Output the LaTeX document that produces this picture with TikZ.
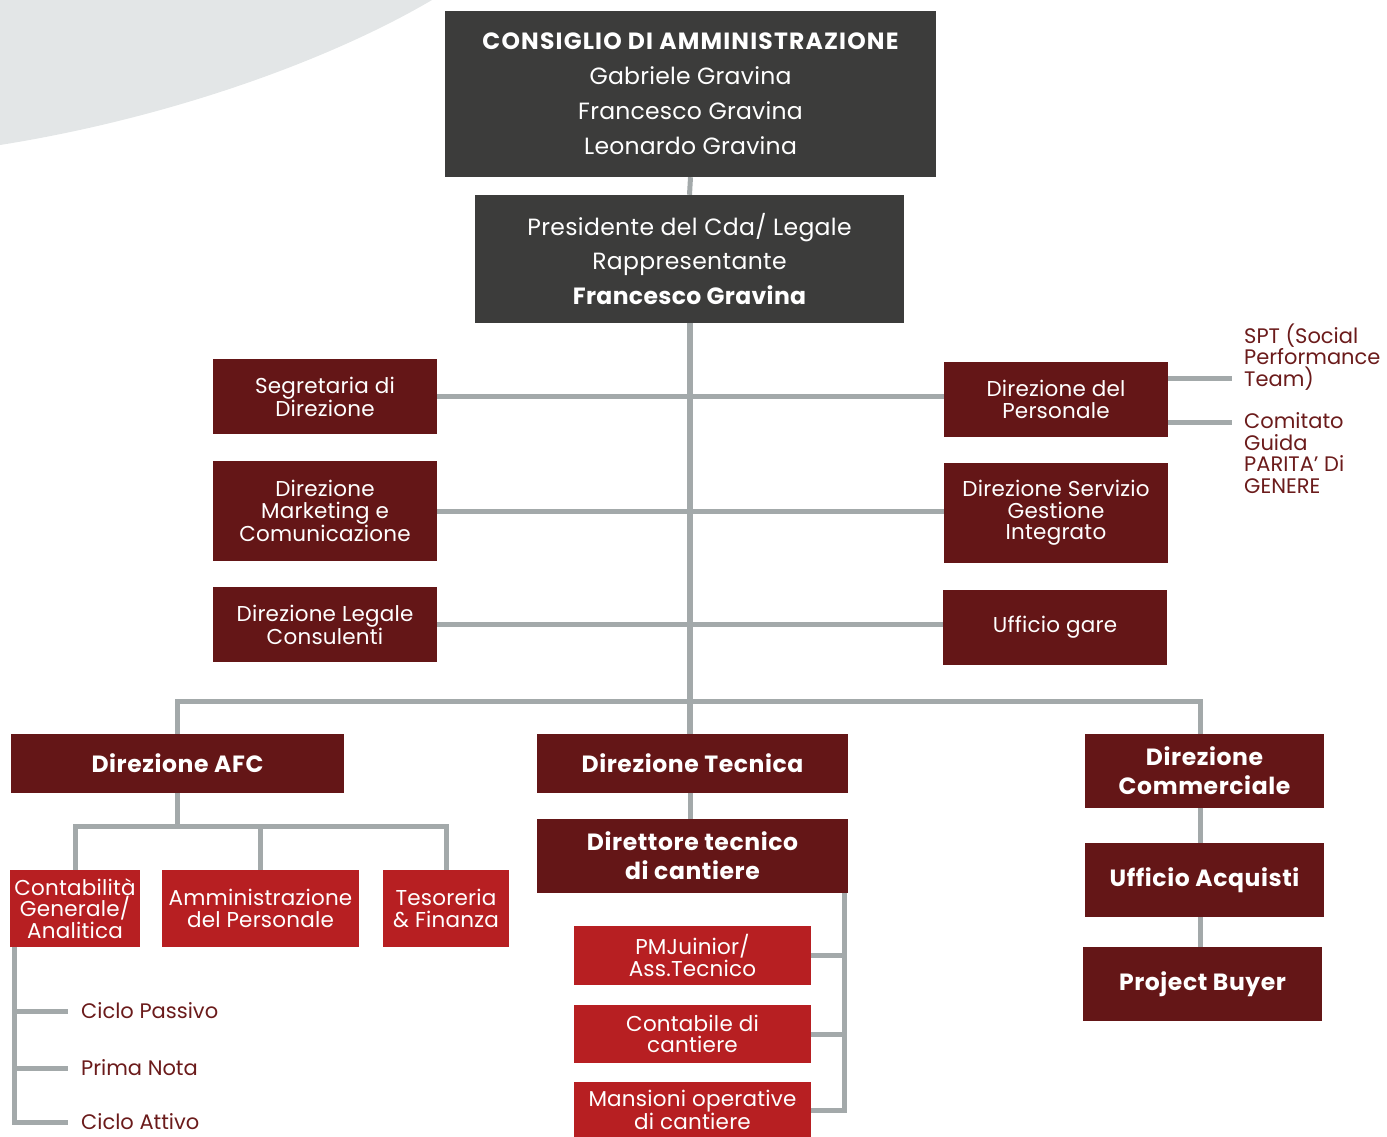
\documentclass[tikz,border=0pt]{standalone}
\usepackage{fontspec}
\setmainfont{Poppins}
\definecolor{cdark}{HTML}{3C3C3B}
\definecolor{cmaroon}{HTML}{641617}
\definecolor{cred}{HTML}{B71F22}
\definecolor{cline}{HTML}{A3A9AA}
\definecolor{ctext}{HTML}{6B1B1B}
\definecolor{carc}{HTML}{E3E6E7}
\newcommand{\fs}[2]{\fontsize{#1}{#2}\selectfont}
\newcommand{\bsp}{\bfseries\addfontfeatures{LetterSpace=2.5}}
\begin{document}
\begin{tikzpicture}[x=1pt,y=-1pt,
  box/.style={rectangle, inner sep=0pt, align=center, text=white},
  dk/.style={box, fill=cdark},
  mr/.style={box, fill=cmaroon},
  rd/.style={box, fill=cred},
  reg/.style={font=\fs{21.5}{21.5}\addfontfeatures{LetterSpace=1}},
  bld/.style={font=\fs{23.5}{29}\bsp},
  conn/.style={draw=cline, line width=5pt},
  lab/.style={text=ctext, anchor=west, align=left, inner sep=0pt, font=\fs{21}{21.5}}]
\useasboundingbox (0,0) rectangle (1387,1136);
\fill[carc] (0,0) -- (432,0) .. controls (330,60) and (170,118) .. (0,145) -- cycle;

% top
\node[dk, minimum width=491pt, minimum height=166pt, font=\fs{23.5}{35}\addfontfeatures{LetterSpace=1}] (cda) at (690.5,94)
  {{\fs{23.5}{35}\bfseries\addfontfeatures{LetterSpace=5}CONSIGLIO DI AMMINISTRAZIONE}\\Gabriele Gravina\\Francesco Gravina\\Leonardo Gravina};
\node[dk, minimum width=429pt, minimum height=128pt, font=\fs{23.5}{34.5}\addfontfeatures{LetterSpace=1.5}] (pres) at (689.5,259)
  {Presidente del Cda/ Legale\\Rappresentante\\{\bfseries\addfontfeatures{LetterSpace=1.5}Francesco Gravina}};

% staff boxes
\node[mr, reg, minimum width=224pt, minimum height=75pt] (seg) at (325,396.5) {Segretaria di\\Direzione};
\node[mr, reg, minimum width=224pt, minimum height=100pt] (mkt) at (325,511) {Direzione\\Marketing e\\Comunicazione};
\node[mr, reg, minimum width=224pt, minimum height=75pt] (leg) at (325,624.5) {Direzione Legale\\Consulenti};
\node[mr, reg, minimum width=224pt, minimum height=75pt] (pers) at (1056,399.5) {Direzione del\\Personale};
\node[mr, reg, minimum width=224pt, minimum height=100pt] (serv) at (1056,513) {Direzione Servizio\\Gestione\\Integrato};
\node[mr, reg, minimum width=224pt, minimum height=75pt] (gare) at (1055,627.5) {Ufficio gare};

\node[lab] (spt) at (1244,357) {SPT (Social\\Performance\\Team)};
\node[lab] (com) at (1244,453) {Comitato\\Guida\\PARITA’ Di\\GENERE};

% directions
\node[mr, bld, minimum width=333pt, minimum height=59pt] (afc) at (177.5,763.5) {Direzione AFC};
\node[mr, bld, minimum width=311pt, minimum height=59pt] (tec) at (692.5,763.5) {Direzione Tecnica};
\node[mr, bld, minimum width=239pt, minimum height=74pt] (comm) at (1204.5,771) {Direzione\\Commerciale};

% AFC subtree
\node[rd, reg, minimum width=130pt, minimum height=77pt] (cont) at (75,908.5) {Contabilità\\Generale/\\Analitica};
\node[rd, reg, minimum width=197pt, minimum height=77pt] (amm) at (260.5,908.5) {Amministrazione\\del Personale};
\node[rd, reg, minimum width=126pt, minimum height=77pt] (tes) at (446,908.5) {Tesoreria\\\& Finanza};
\node[lab] (cp) at (81,1011) {Ciclo Passivo};
\node[lab] (pn) at (81,1068) {Prima Nota};
\node[lab] (ca) at (81,1122) {Ciclo Attivo};

% Tecnica subtree
\node[mr, bld, minimum width=311pt, minimum height=74pt] (dtc) at (692.5,856) {Direttore tecnico\\di cantiere};
\node[rd, reg, minimum width=237pt, minimum height=59pt] (pmj) at (692.5,955.5) {PMJuinior/\\Ass.Tecnico};
\node[rd, reg, minimum width=237pt, minimum height=58pt] (cdc) at (692.5,1034) {Contabile di\\cantiere};
\node[rd, minimum width=237pt, minimum height=56pt, font=\fs{21.5}{20.5}\addfontfeatures{LetterSpace=1}] (mans) at (692.5,1110) {Mansioni operative\\di cantiere};

% Commerciale subtree
\node[mr, bld, minimum width=239pt, minimum height=74pt] (acq) at (1204.5,880) {Ufficio Acquisti};
\node[mr, bld, minimum width=239pt, minimum height=74pt] (buy) at (1202.5,984) {Project Buyer};

% connectors
\coordinate (bus) at (0,701);
\coordinate (afcbus) at (0,826);
\coordinate (sptend) at (1232,378);
\coordinate (comend) at (1232,422);
\coordinate (lx) at (14,0);
\coordinate (rx) at (844,0);
\coordinate (cx) at (1200,0);
\coordinate (mx) at (690,0);
\draw[conn] (cda.south) -- (pres.north);
\draw[conn, line width=6pt] (pres.south) -- (pres.south |- tec.north);
\draw[conn] (seg.east) -- (seg.east -| pers.west);
\draw[conn] (mkt.east) -- (mkt.east -| serv.west);
\draw[conn] (leg.east) -- (leg.east -| gare.west);
\draw[conn] (sptend -| pers.east) -- (sptend);
\draw[conn] (comend -| pers.east) -- (comend);
\draw[conn] (afc.north) |- (cx |- bus) -- (cx |- comm.north);
\draw[conn] (afc.south) -- (afc.south |- afcbus);
\draw[conn] (cont.north) |- (tes.north |- afcbus) -- (tes.north);
\draw[conn] (amm.north) -- (amm.north |- afcbus);
\draw[conn] (lx |- cont.south) |- ([xshift=-13pt]ca.west);
\draw[conn] (lx |- cp.west) -- ([xshift=-13pt]cp.west);
\draw[conn] (lx |- pn.west) -- ([xshift=-13pt]pn.west);
\draw[conn] (mx |- tec.south) -- (mx |- dtc.north);
\draw[conn] (rx |- dtc.south) |- (mans.east);
\draw[conn] (pmj.east) -- (pmj.east -| rx);
\draw[conn] (cdc.east) -- (cdc.east -| rx);
\draw[conn] (cx |- comm.south) -- (cx |- acq.north);
\draw[conn] (cx |- acq.south) -- (cx |- buy.north);
\end{tikzpicture}
\end{document}
